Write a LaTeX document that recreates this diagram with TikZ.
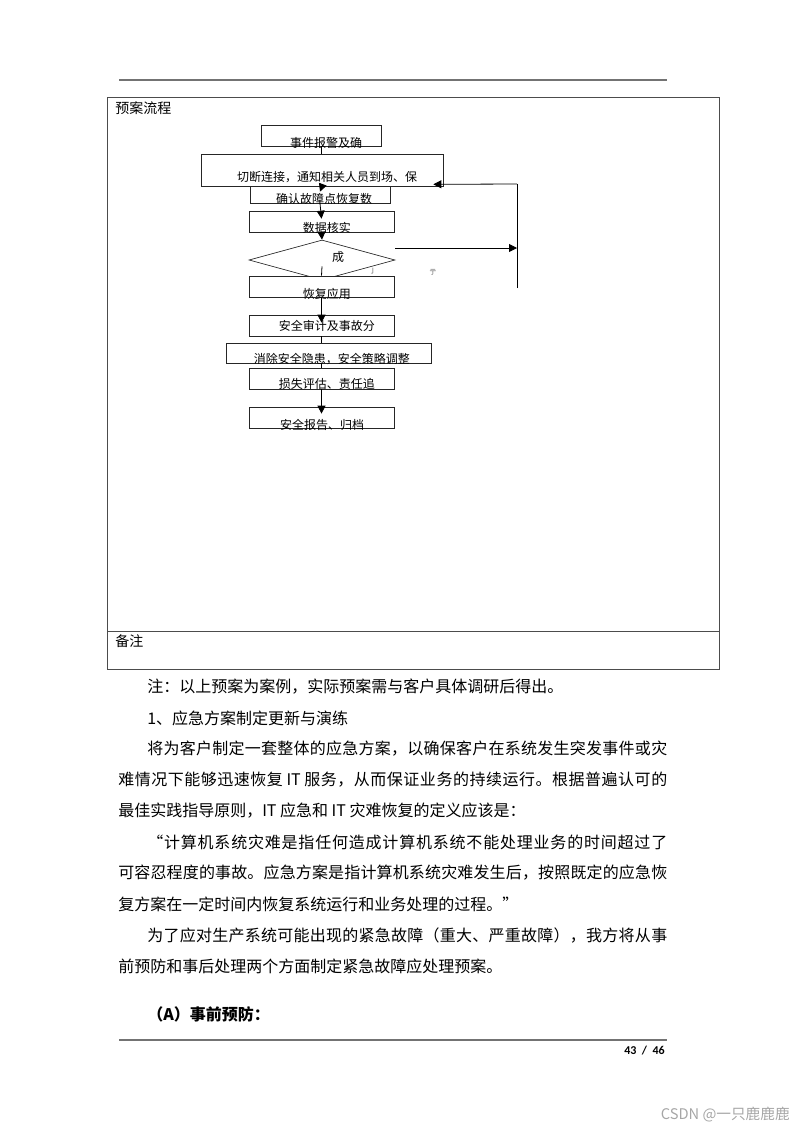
\documentclass[tikz,border=0pt]{standalone}
\usepackage{fontspec}
\setmainfont{Noto Sans CJK SC}
\newfontfamily\pagefont{Carlito}
\usetikzlibrary{positioning,arrows.meta,shapes.geometric}

% stretchable glue between CJK characters, for justified lines
\newcount\cjkcode
\def\cjkclass#1#2{\cjkcode=#1
  \loop \XeTeXcharclass\cjkcode=1 \advance\cjkcode by 1 \ifnum\cjkcode<#2 \repeat}
\cjkclass{"4E00}{"A000}
\cjkclass{"3000}{"3040}
\cjkclass{"FF00}{"FFF0}
\cjkclass{"2018}{"2020}
\XeTeXinterchartokenstate=1
\XeTeXinterchartoks 1 1 = {\hskip 0pt plus 1fil\relax}
\XeTeXinterchartoks 0 1 = {\hskip 0pt plus 1fil\relax}
\XeTeXinterchartoks 1 0 = {\hskip 0pt plus 1fil\relax}
\newcommand\jline[2]{\makebox[#1][s]{#2}}

\begin{document}
\begin{tikzpicture}[x=0.75pt,y=-0.75pt,
  flowbox/.style={draw=black!85,line width=0.5pt,fill=white,inner sep=0pt},
  flowtxt/.style={font=\fontsize{9}{9}\selectfont,inner sep=0pt},
  link/.style={line width=0.6pt},
  arr/.style={link,-{Triangle[length=6pt,width=6pt]}},
  rule/.style={black!55,line width=0.8pt},
  frame/.style={black!70,line width=0.7pt},
  celltxt/.style={font=\fontsize{10.5}{10.5}\selectfont,anchor=west,inner sep=0pt},
  bodytxt/.style={font=\fontsize{12}{12}\selectfont,anchor=west,inner sep=0pt}]
\useasboundingbox (0,0) rectangle (800,1132);

% page rules and the table
\draw[rule] (119,80) -- (667,80);
\draw[rule] (119,1040) -- (667,1040);
\draw[frame] (107,97) rectangle (719,669);
\draw[frame] (107,631) -- (719,631);
\node[celltxt] (flowtitle) at (115,108) {预案流程};
\node[celltxt] (remark) at (115,641) {备注};

% flow chart
\node[diamond,draw=black!85,line width=0.5pt,inner sep=0pt,
  minimum width=109.5pt,minimum height=30pt,
  label={[flowtxt,xshift=12pt,yshift=2.25pt]center:成}] (check) at (322,260) {};
\foreach \nm/\cx/\cy/\bw/\bh/\dx/\dy/\txt in {
  alarm/321/135.5/90/15.75/3.75/-5.4/事件报警及确,
  cut/322/170/181.5/24/3.75/-5.6/切断连接，通知相关人员到场、保,
  locate/320/194.5/105/12.75/3/-3.6/确认故障点恢复数,
  verify/321.5/221.5/108.75/15.75/4.1/-4.6/数据核实,
  recover/321.5/286.5/108.75/15.75/4.1/-5.2/恢复应用,
  audit/321.5/325.5/108.75/15.75/4.1/-0.6/安全审计及事故分,
  remove/328.5/353/153.75/15/2.6/-4.8/消除安全隐患，安全策略调整,
  loss/321.5/378.5/108.75/15.75/4.1/-3.8/损失评估、责任追,
  report/321.5/417.5/108.75/15.75/0.4/-5.4/安全报告、归档}{
  \node[flowbox,minimum width=\bw pt,minimum height=\bh pt,
    label={[flowtxt,xshift=\dx pt,yshift=\dy pt]center:\txt}] (\nm) at (\cx,\cy) {};
}
\node[font=\fontsize{5}{5}\selectfont,black!70,inner sep=0pt] (yesmark) at (373,271) {亅};
\node[font=\fontsize{5}{5}\selectfont,black!70,inner sep=0pt] (nomark) at (433,272) {亍};

\draw[link] (alarm.south) -- (alarm.south |- cut.north);
\draw[arr] (cut.south) -- ([yshift=-4.5pt]locate.north);
\draw[arr] (locate.south) -- ([yshift=-6pt]verify.north);
\draw[arr] (verify.south) -- (check.north);
\draw[link] ([yshift=10.5pt]check.south) -- (recover.north);
\draw[arr] (recover.south) -- ([yshift=-6pt]audit.north);
\draw[link] (audit.south) -- (audit.south |- remove.north);
\draw[link] (remove.south -| loss.north) -- (loss.north);
\draw[arr] (loss.south) -- ([yshift=-5.25pt]report.north);

% loop back on the right
\coordinate (noout) at ([yshift=9pt]check.east);
\coordinate (backtop) at (517,184);
\coordinate (backbot) at (517,288);
\draw[arr] (noout) -- (noout -| backtop);
\draw[link] (backbot) -- (backtop);
\draw[arr] (backtop) -- ([xshift=-7.5pt,yshift=1.5pt]cut.south east);

% text below the table
\node[bodytxt] (note) at (147,687) {注：以上预案为案例，实际预案需与客户具体调研后得出。};
\node[bodytxt] (sec1) at (147,718) {1、应急方案制定更新与演练};
\node[bodytxt] (para1a) at (147,749) {\jline{390pt}{将为客户制定一套整体的应急方案，以确保客户在系统发生突发事件或灾}};
\node[bodytxt] (para1b) at (118,780) {\jline{411.75pt}{难情况下能够迅速恢复 IT 服务，从而保证业务的持续运行。根据普遍认可的}};
\node[bodytxt] (para1c) at (118,811) {最佳实践指导原则，IT 应急和 IT 灾难恢复的定义应该是：};
\node[bodytxt] (para2a) at (147,842) {\jline{390pt}{“计算机系统灾难是指任何造成计算机系统不能处理业务的时间超过了}};
\node[bodytxt] (para2b) at (118,873) {\jline{411.75pt}{可容忍程度的事故。应急方案是指计算机系统灾难发生后，按照既定的应急恢}};
\node[bodytxt] (para2c) at (118,904) {复方案在一定时间内恢复系统运行和业务处理的过程。”};
\node[bodytxt] (para3a) at (147,935) {\jline{390pt}{为了应对生产系统可能出现的紧急故障（重大、严重故障），我方将从事}};
\node[bodytxt] (para3b) at (118,966) {前预防和事后处理两个方面制定紧急故障应处理预案。};
\node[bodytxt,font=\fontsize{12}{12}\selectfont\bfseries] (secA) at (147,1014) {（A）事前预防：};

% footer
\node[font=\pagefont\bfseries\fontsize{9}{9}\selectfont,anchor=east,inner sep=0pt] (pageno) at (665,1051) {43\ \ /\ \ 46};
\node[font=\fontsize{11}{11}\selectfont,black!35,anchor=east,inner sep=0pt] (mark) at (790,1115) {CSDN @一只鹿鹿鹿};
\end{tikzpicture}
\end{document}
